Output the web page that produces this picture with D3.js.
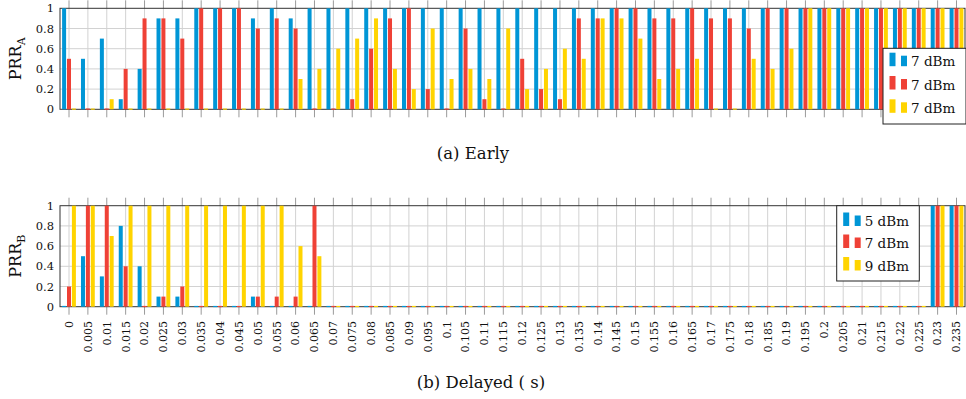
<!DOCTYPE html>
<html>
<head>
    <title>PRR early / delayed</title>
    <script src="https://d3js.org/d3.v7.min.js"></script>
    <style>
        body { margin: 0; background: #fff; }
        svg text { font-family: "DejaVu Serif", "Liberation Serif", serif; fill: #111; }
        .grid line { stroke: #d2d2d2; stroke-width: 1; }
        .tickmark { stroke: #9a9a9a; stroke-width: 1; }
        .frame { fill: none; stroke: #333; stroke-width: 1; }
        .legend-box { fill: #fff; stroke: #222; stroke-width: 1; }
    </style>
</head>
<body>
<div id="chart"></div>
<script>
    // x categories (delay in s)
    const categories = ["0", "0.005", "0.01", "0.015", "0.02", "0.025", "0.03", "0.035", "0.04", "0.045",
        "0.05", "0.055", "0.06", "0.065", "0.07", "0.075", "0.08", "0.085", "0.09", "0.095",
        "0.1", "0.105", "0.11", "0.115", "0.12", "0.125", "0.13", "0.135", "0.14", "0.145",
        "0.15", "0.155", "0.16", "0.165", "0.17", "0.175", "0.18", "0.185", "0.19", "0.195",
        "0.2", "0.205", "0.21", "0.215", "0.22", "0.225", "0.23", "0.235"];

    const yTicks = [0, 0.2, 0.4, 0.6, 0.8, 1];
    const seriesColors = ["#0096d6", "#ef4136", "#ffd400"];

    // (a) early
    const earlyLabels = ["7 dBm", "7 dBm", "7 dBm"];
    const earlyBlue = [1, 0.5, 0.7, 0.1, 0.4, 0.9, 0.9, 1, 1, 1, 0.9, 1, 0.9, 1,
        1, 1, 1, 1, 1, 1, 1, 1, 1, 1, 1, 1, 1, 1, 1, 1, 1,
        1, 1, 1, 1, 1, 1, 1, 1,
        1, 1, 1, 1, 1, 1, 1, 1, 1];
    const earlyRed = [0.5, 0, 0, 0.4, 0.9, 0.9, 0.7, 1, 1, 1, 0.8, 0.9, 0.8, 0,
        0, 0.1, 0.6, 0.9, 1, 0.2, 0, 0.8, 0.1, 0, 0.5, 0.2, 0.1, 0.9, 0.9, 1, 1,
        0.9, 0.9, 1, 0.9, 0.9, 0.8, 1, 1,
        1, 1, 1, 1, 1, 1, 1, 1, 1];
    const earlyYellow = [0, 0, 0.1, 0, 0, 0, 0, 0, 0, 0, 0, 0, 0.3, 0.4,
        0.6, 0.7, 0.9, 0.4, 0.2, 0.8, 0.3, 0.4, 0.3, 0.8, 0.2, 0.4, 0.6, 0.5, 0.9, 0.9, 0.7,
        0.3, 0.4, 0.5, 0, 0, 0.5, 0.4, 0.6,
        1, 1, 1, 1, 1, 1, 1, 1, 1];

    // (b) delayed
    const delayedLabels = ["5 dBm", "7 dBm", "9 dBm"];
    const delayedBlue = [0, 0.5, 0.3, 0.8, 0.4, 0.1, 0.1, 0, 0, 0, 0.1, 0, 0, 0,
        0, 0, 0, 0, 0, 0, 0, 0, 0, 0, 0, 0, 0, 0, 0, 0, 0, 0,
        0, 0, 0, 0, 0, 0, 0, 0, 0, 0, 0, 0, 0, 0,
        1, 1];
    const delayedRed = [0.2, 1, 1, 0.4, 0, 0.1, 0.2, 0, 0, 0, 0.1, 0.1, 0.1, 1,
        0, 0, 0, 0, 0, 0, 0, 0, 0, 0, 0, 0, 0, 0, 0, 0, 0, 0,
        0, 0, 0, 0, 0, 0, 0, 0, 0, 0, 0, 0, 0, 0,
        1, 1];
    const delayedYellow = [1, 1, 0.7, 1, 1, 1, 1, 1, 1, 1, 1, 1, 0.6, 0.5,
        0, 0, 0, 0, 0, 0, 0, 0, 0, 0, 0, 0, 0, 0, 0, 0, 0, 0,
        0, 0, 0, 0, 0, 0, 0, 0, 0, 0, 0, 0, 0, 0,
        1, 1];

    const W = 966, H = 399;
    const plotLeft = 60, plotRight = 965;

    const svg = d3.select("#chart").append("svg")
        .attr("width", W)
        .attr("height", H);

    // shared x scale, one point per category
    const x = d3.scalePoint()
        .domain(categories)
        .range([69, 956.5]);

    const barW = 4, barStep = 4.9;

    function drawPanel(cfg) {
        const y = d3.scaleLinear().domain([0, 1]).range([cfg.bottom, cfg.top]);
        const g = svg.append("g");

        // grid
        const grid = g.append("g").attr("class", "grid");
        grid.selectAll(".vg").data(categories).enter().append("line")
            .attr("x1", d => x(d)).attr("x2", d => x(d))
            .attr("y1", cfg.top).attr("y2", cfg.bottom);
        grid.selectAll(".hg").data(yTicks.slice(1, -1)).enter().append("line")
            .attr("x1", plotLeft).attr("x2", plotRight)
            .attr("y1", d => y(d)).attr("y2", d => y(d));

        // tick marks outside, top and bottom
        g.selectAll(".tt").data(categories).enter().append("line")
            .attr("class", "tickmark")
            .attr("x1", d => x(d)).attr("x2", d => x(d))
            .attr("y1", cfg.top - 8).attr("y2", cfg.top);
        g.selectAll(".tb").data(categories).enter().append("line")
            .attr("class", "tickmark")
            .attr("x1", d => x(d)).attr("x2", d => x(d))
            .attr("y1", cfg.bottom).attr("y2", cfg.bottom + 8);

        g.append("rect").attr("class", "frame")
            .attr("x", plotLeft).attr("y", cfg.top)
            .attr("width", plotRight - plotLeft).attr("height", cfg.bottom - cfg.top);

        // bars
        cfg.series.forEach((vals, s) => {
            const pts = vals.map((v, i) => ({ cat: categories[i], v: v }));
            g.selectAll(".bar" + s).data(pts).enter().append("rect")
                .attr("x", d => x(d.cat) + (s - 1) * barStep - barW / 2)
                .attr("width", barW)
                .attr("y", d => d.v > 0 ? y(d.v) : cfg.bottom - 0.8)
                .attr("height", d => d.v > 0 ? cfg.bottom - y(d.v) : 1.2)
                .attr("fill", seriesColors[s]);
        });

        // y tick labels
        g.selectAll(".yl").data(yTicks).enter().append("text")
            .attr("x", 54).attr("y", d => y(d))
            .attr("dy", "0.35em")
            .attr("text-anchor", "end")
            .style("font-size", "11.5px")
            .text(d => d3.format("~g")(d));

        // y axis title PRR_x
        const yt = g.append("text")
            .attr("transform", `translate(21,${(cfg.top + cfg.bottom) / 2}) rotate(-90)`)
            .attr("text-anchor", "middle")
            .style("font-size", "16px");
        yt.append("tspan").text("PRR");
        yt.append("tspan").attr("dy", 4).style("font-size", "11px").text(cfg.sub);

        // legend
        const lg = cfg.legend;
        g.append("rect").attr("class", "legend-box")
            .attr("x", lg.x).attr("y", lg.y)
            .attr("width", lg.w).attr("height", lg.h);
        cfg.labels.forEach((lab, s) => {
            const cy = lg.rows[s];
            g.append("rect").attr("x", lg.x + 6.5).attr("y", cy + 4.5 - 13.5)
                .attr("width", 6).attr("height", 13.5).attr("fill", seriesColors[s]);
            g.append("rect").attr("x", lg.x + 18).attr("y", cy + 4.5 - 10.5)
                .attr("width", 6).attr("height", 10.5).attr("fill", seriesColors[s]);
            g.append("text")
                .attr("x", lg.x + 28).attr("y", cy)
                .attr("dy", "0.35em")
                .style("font-size", "13.5px")
                .text(lab);
        });

        // caption
        svg.append("text")
            .attr("x", cfg.capX).attr("y", cfg.capY)
            .attr("text-anchor", "middle")
            .style("font-size", "16.5px")
            .text(cfg.caption);

        return g;
    }

    drawPanel({
        top: 8.3, bottom: 109.3, sub: "A",
        series: [earlyBlue, earlyRed, earlyYellow],
        labels: earlyLabels,
        legend: { x: 883, y: 48.3, w: 83, h: 75.7, rows: [61.7, 85, 108.3] },
        caption: "(a) Early", capX: 473, capY: 159
    });

    const gb = drawPanel({
        top: 205.7, bottom: 306.7, sub: "B",
        series: [delayedBlue, delayedRed, delayedYellow],
        labels: delayedLabels,
        legend: { x: 836.7, y: 205.7, w: 82.6, h: 75.3, rows: [221.5, 243.5, 266] },
        caption: "(b) Delayed ( s)", capX: 481, capY: 388
    });

    // rotated x tick labels under panel (b)
    gb.selectAll(".xl").data(categories).enter().append("text")
        .attr("transform", d => `translate(${x(d)},321) rotate(-90)`)
        .attr("dy", "0.35em")
        .attr("text-anchor", "end")
        .style("font-size", "11px")
        .text(d => d);
</script>
</body>
</html>
